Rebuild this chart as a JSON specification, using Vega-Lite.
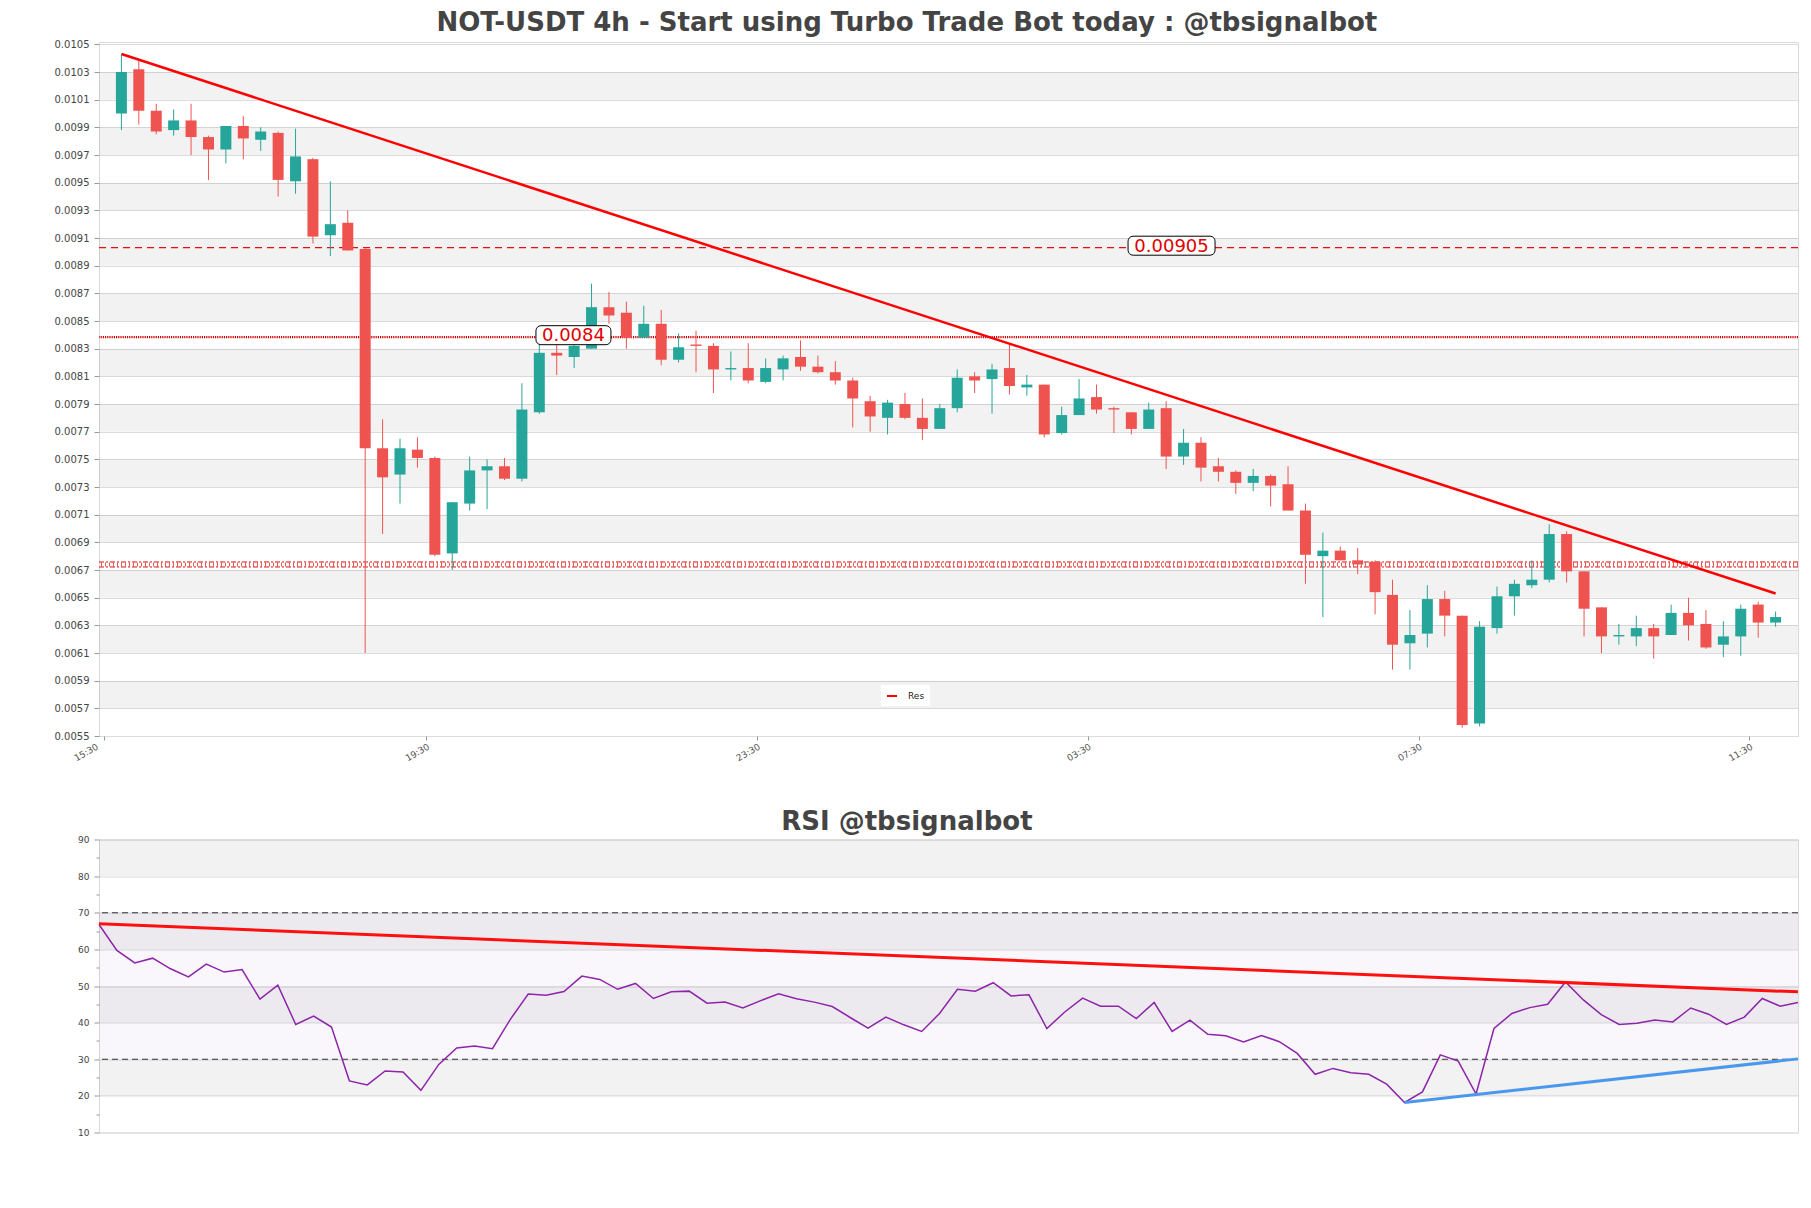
{
  "$schema": "https://vega.github.io/schema/vega-lite/v6.json",
  "background": "white",
  "padding": {"left": 52, "top": 9, "right": 14, "bottom": 5},
  "spacing": 43.5,
  "config": {
    "view": {"stroke": "#d9d9d9", "strokeWidth": 1},
    "font": "DejaVu Sans",
    "axis": {"labelFont": "DejaVu Sans", "labelColor": "#444", "tickColor": "#999", "domain": false, "gridColor": "#dcdcdc", "gridWidth": 1}
  },
  "datasets": {
    "one": [{}],
    "candles": [
      {"i":0,"o":0.01000,"h":0.01043,"l":0.00988,"c":0.01030},
      {"i":1,"o":0.01032,"h":0.01038,"l":0.00992,"c":0.01002},
      {"i":2,"o":0.01002,"h":0.01007,"l":0.00985,"c":0.00987},
      {"i":3,"o":0.00988,"h":0.01003,"l":0.00984,"c":0.00995},
      {"i":4,"o":0.00995,"h":0.01007,"l":0.00970,"c":0.00983},
      {"i":5,"o":0.00983,"h":0.00984,"l":0.00952,"c":0.00974},
      {"i":6,"o":0.00974,"h":0.00991,"l":0.00964,"c":0.00991},
      {"i":7,"o":0.00991,"h":0.00998,"l":0.00967,"c":0.00982},
      {"i":8,"o":0.00981,"h":0.00990,"l":0.00973,"c":0.00987},
      {"i":9,"o":0.00986,"h":0.00987,"l":0.00940,"c":0.00952},
      {"i":10,"o":0.00951,"h":0.00989,"l":0.00942,"c":0.00969},
      {"i":11,"o":0.00967,"h":0.00968,"l":0.00906,"c":0.00911},
      {"i":12,"o":0.00912,"h":0.00951,"l":0.00897,"c":0.00920},
      {"i":13,"o":0.00921,"h":0.00930,"l":0.00901,"c":0.00901},
      {"i":14,"o":0.00902,"h":0.00903,"l":0.00610,"c":0.00758},
      {"i":15,"o":0.00758,"h":0.00779,"l":0.00696,"c":0.00737},
      {"i":16,"o":0.00739,"h":0.00765,"l":0.00718,"c":0.00758},
      {"i":17,"o":0.00757,"h":0.00766,"l":0.00744,"c":0.00751},
      {"i":18,"o":0.00751,"h":0.00752,"l":0.00680,"c":0.00681},
      {"i":19,"o":0.00682,"h":0.00719,"l":0.00670,"c":0.00719},
      {"i":20,"o":0.00718,"h":0.00752,"l":0.00713,"c":0.00742},
      {"i":21,"o":0.00742,"h":0.00750,"l":0.00714,"c":0.00745},
      {"i":22,"o":0.00745,"h":0.00751,"l":0.00735,"c":0.00736},
      {"i":23,"o":0.00736,"h":0.00805,"l":0.00734,"c":0.00786},
      {"i":24,"o":0.00784,"h":0.00833,"l":0.00783,"c":0.00827},
      {"i":25,"o":0.00827,"h":0.00847,"l":0.00811,"c":0.00825},
      {"i":26,"o":0.00824,"h":0.00833,"l":0.00816,"c":0.00832},
      {"i":27,"o":0.00830,"h":0.00877,"l":0.00830,"c":0.00860},
      {"i":28,"o":0.00860,"h":0.00871,"l":0.00848,"c":0.00854},
      {"i":29,"o":0.00856,"h":0.00864,"l":0.00830,"c":0.00838},
      {"i":30,"o":0.00838,"h":0.00861,"l":0.00838,"c":0.00848},
      {"i":31,"o":0.00848,"h":0.00858,"l":0.00818,"c":0.00822},
      {"i":32,"o":0.00822,"h":0.00841,"l":0.00820,"c":0.00831},
      {"i":33,"o":0.00833,"h":0.00843,"l":0.00813,"c":0.00832},
      {"i":34,"o":0.00832,"h":0.00834,"l":0.00798,"c":0.00815},
      {"i":35,"o":0.00815,"h":0.00828,"l":0.00807,"c":0.00816},
      {"i":36,"o":0.00816,"h":0.00834,"l":0.00805,"c":0.00807},
      {"i":37,"o":0.00806,"h":0.00823,"l":0.00805,"c":0.00816},
      {"i":38,"o":0.00815,"h":0.00825,"l":0.00807,"c":0.00823},
      {"i":39,"o":0.00824,"h":0.00836,"l":0.00814,"c":0.00817},
      {"i":40,"o":0.00817,"h":0.00825,"l":0.00812,"c":0.00813},
      {"i":41,"o":0.00813,"h":0.00821,"l":0.00804,"c":0.00807},
      {"i":42,"o":0.00807,"h":0.00809,"l":0.00773,"c":0.00794},
      {"i":43,"o":0.00792,"h":0.00796,"l":0.00770,"c":0.00781},
      {"i":44,"o":0.00780,"h":0.00793,"l":0.00768,"c":0.00791},
      {"i":45,"o":0.00790,"h":0.00798,"l":0.00779,"c":0.00780},
      {"i":46,"o":0.00780,"h":0.00794,"l":0.00764,"c":0.00772},
      {"i":47,"o":0.00772,"h":0.00790,"l":0.00772,"c":0.00787},
      {"i":48,"o":0.00787,"h":0.00815,"l":0.00784,"c":0.00809},
      {"i":49,"o":0.00810,"h":0.00813,"l":0.00798,"c":0.00807},
      {"i":50,"o":0.00808,"h":0.00819,"l":0.00783,"c":0.00815},
      {"i":51,"o":0.00816,"h":0.00834,"l":0.00797,"c":0.00803},
      {"i":52,"o":0.00802,"h":0.00811,"l":0.00796,"c":0.00804},
      {"i":53,"o":0.00804,"h":0.00804,"l":0.00766,"c":0.00768},
      {"i":54,"o":0.00769,"h":0.00788,"l":0.00768,"c":0.00782},
      {"i":55,"o":0.00782,"h":0.00808,"l":0.00782,"c":0.00794},
      {"i":56,"o":0.00795,"h":0.00804,"l":0.00783,"c":0.00786},
      {"i":57,"o":0.00787,"h":0.00788,"l":0.00769,"c":0.00786},
      {"i":58,"o":0.00784,"h":0.00784,"l":0.00768,"c":0.00772},
      {"i":59,"o":0.00772,"h":0.00791,"l":0.00772,"c":0.00786},
      {"i":60,"o":0.00787,"h":0.00792,"l":0.00743,"c":0.00752},
      {"i":61,"o":0.00752,"h":0.00772,"l":0.00746,"c":0.00762},
      {"i":62,"o":0.00762,"h":0.00766,"l":0.00734,"c":0.00744},
      {"i":63,"o":0.00745,"h":0.00751,"l":0.00734,"c":0.00741},
      {"i":64,"o":0.00741,"h":0.00742,"l":0.00725,"c":0.00733},
      {"i":65,"o":0.00733,"h":0.00743,"l":0.00727,"c":0.00738},
      {"i":66,"o":0.00738,"h":0.00739,"l":0.00716,"c":0.00731},
      {"i":67,"o":0.00732,"h":0.00745,"l":0.00713,"c":0.00713},
      {"i":68,"o":0.00713,"h":0.00718,"l":0.00660,"c":0.00681},
      {"i":69,"o":0.00680,"h":0.00697,"l":0.00636,"c":0.00684},
      {"i":70,"o":0.00684,"h":0.00687,"l":0.00677,"c":0.00677},
      {"i":71,"o":0.00677,"h":0.00686,"l":0.00667,"c":0.00674},
      {"i":72,"o":0.00676,"h":0.00677,"l":0.00638,"c":0.00654},
      {"i":73,"o":0.00652,"h":0.00663,"l":0.00598,"c":0.00616},
      {"i":74,"o":0.00617,"h":0.00641,"l":0.00598,"c":0.00623},
      {"i":75,"o":0.00624,"h":0.00659,"l":0.00614,"c":0.00649},
      {"i":76,"o":0.00649,"h":0.00655,"l":0.00622,"c":0.00637},
      {"i":77,"o":0.00637,"h":0.00637,"l":0.00556,"c":0.00558},
      {"i":78,"o":0.00559,"h":0.00633,"l":0.00557,"c":0.00629},
      {"i":79,"o":0.00628,"h":0.00658,"l":0.00624,"c":0.00651},
      {"i":80,"o":0.00651,"h":0.00663,"l":0.00637,"c":0.00660},
      {"i":81,"o":0.00659,"h":0.00677,"l":0.00657,"c":0.00663},
      {"i":82,"o":0.00663,"h":0.00703,"l":0.00661,"c":0.00696},
      {"i":83,"o":0.00696,"h":0.00698,"l":0.00661,"c":0.00669},
      {"i":84,"o":0.00669,"h":0.00669,"l":0.00622,"c":0.00642},
      {"i":85,"o":0.00643,"h":0.00643,"l":0.00610,"c":0.00622},
      {"i":86,"o":0.00622,"h":0.00631,"l":0.00616,"c":0.00623},
      {"i":87,"o":0.00622,"h":0.00637,"l":0.00615,"c":0.00628},
      {"i":88,"o":0.00628,"h":0.00631,"l":0.00606,"c":0.00622},
      {"i":89,"o":0.00623,"h":0.00645,"l":0.00623,"c":0.00639},
      {"i":90,"o":0.00639,"h":0.00650,"l":0.00619,"c":0.00630},
      {"i":91,"o":0.00631,"h":0.00641,"l":0.00613,"c":0.00614},
      {"i":92,"o":0.00616,"h":0.00633,"l":0.00607,"c":0.00622},
      {"i":93,"o":0.00622,"h":0.00645,"l":0.00608,"c":0.00642},
      {"i":94,"o":0.00645,"h":0.00647,"l":0.00621,"c":0.00632},
      {"i":95,"o":0.00632,"h":0.00640,"l":0.00629,"c":0.00636}
    ],
    "trend": [{"i":0,"p":0.01043},{"i":95,"p":0.00653}],
    "bands": [
      {"lo":0.0057,"hi":0.0059},{"lo":0.0061,"hi":0.0063},{"lo":0.0065,"hi":0.0067},
      {"lo":0.0069,"hi":0.0071},{"lo":0.0073,"hi":0.0075},{"lo":0.0077,"hi":0.0079},
      {"lo":0.0081,"hi":0.0083},{"lo":0.0085,"hi":0.0087},{"lo":0.0089,"hi":0.0091},
      {"lo":0.0093,"hi":0.0095},{"lo":0.0097,"hi":0.0099},{"lo":0.0101,"hi":0.0103}
    ],
    "labels": [
      {"i":25.96,"p":0.008383,"t":"0.0084"},
      {"i":60.31,"p":0.00903,"t":"0.00905"}
    ],
    "rsi": [
      {"i":0,"r":66.8},{"i":1,"r":59.7},{"i":2,"r":56.3},{"i":3,"r":57.6},{"i":4,"r":54.7},
      {"i":5,"r":52.5},{"i":6,"r":56.0},{"i":7,"r":53.8},{"i":8,"r":54.5},{"i":9,"r":46.4},
      {"i":10,"r":50.2},{"i":11,"r":39.5},{"i":12,"r":41.8},{"i":13,"r":38.8},{"i":14,"r":24.1},
      {"i":15,"r":23.0},{"i":16,"r":26.8},{"i":17,"r":26.5},{"i":18,"r":21.5},{"i":19,"r":28.6},
      {"i":20,"r":33.1},{"i":21,"r":33.6},{"i":22,"r":32.9},{"i":23,"r":40.9},{"i":24,"r":47.8},
      {"i":25,"r":47.5},{"i":26,"r":48.5},{"i":27,"r":52.7},{"i":28,"r":51.8},{"i":29,"r":49.1},
      {"i":30,"r":50.7},{"i":31,"r":46.6},{"i":32,"r":48.4},{"i":33,"r":48.6},{"i":34,"r":45.3},
      {"i":35,"r":45.6},{"i":36,"r":44.0},{"i":37,"r":46.0},{"i":38,"r":47.9},{"i":39,"r":46.5},
      {"i":40,"r":45.6},{"i":41,"r":44.4},{"i":42,"r":41.4},{"i":43,"r":38.5},{"i":44,"r":41.5},
      {"i":45,"r":39.4},{"i":46,"r":37.6},{"i":47,"r":42.5},{"i":48,"r":49.1},{"i":49,"r":48.6},
      {"i":50,"r":50.9},{"i":51,"r":47.3},{"i":52,"r":47.6},{"i":53,"r":38.4},{"i":54,"r":42.9},
      {"i":55,"r":46.7},{"i":56,"r":44.5},{"i":57,"r":44.5},{"i":58,"r":41.1},{"i":59,"r":45.5},
      {"i":60,"r":37.6},{"i":61,"r":40.7},{"i":62,"r":36.8},{"i":63,"r":36.4},{"i":64,"r":34.7},
      {"i":65,"r":36.5},{"i":66,"r":34.8},{"i":67,"r":31.6},{"i":68,"r":25.9},{"i":69,"r":27.5},
      {"i":70,"r":26.3},{"i":71,"r":25.9},{"i":72,"r":23.2},{"i":73,"r":18.2},{"i":74,"r":21.1},
      {"i":75,"r":31.2},{"i":76,"r":29.5},{"i":77,"r":20.5},{"i":78,"r":38.4},{"i":79,"r":42.5},
      {"i":80,"r":44.1},{"i":81,"r":45.0},{"i":82,"r":51.1},{"i":83,"r":46.2},{"i":84,"r":42.2},
      {"i":85,"r":39.5},{"i":86,"r":39.8},{"i":87,"r":40.7},{"i":88,"r":40.2},{"i":89,"r":44.0},
      {"i":90,"r":42.3},{"i":91,"r":39.5},{"i":92,"r":41.5},{"i":93,"r":46.6},{"i":94,"r":44.5},
      {"i":95,"r":45.5}
    ],
    "rsiBands": [{"lo":20,"hi":30},{"lo":40,"hi":50},{"lo":60,"hi":70},{"lo":80,"hi":90}],
    "rsiRed": [{"i":0,"r":67.0},{"i":95,"r":48.4}],
    "rsiBlue": [{"i":73,"r":18.2},{"i":95,"r":30.1}]
  },
  "vconcat": [
    {
      "width": 1699,
      "height": 694,
      "title": {"text": "NOT-USDT 4h - Start using Turbo Trade Bot today : @tbsignalbot", "font": "DejaVu Sans", "fontSize": 26, "fontWeight": "bold", "color": "#444444", "anchor": "middle", "frame": "group", "dx": -41.6, "offset": 3.5},
      "layer": [
        {
          "data": {"name": "bands"},
          "mark": {"type": "rect", "fill": "#000000", "fillOpacity": 0.05},
          "encoding": {
            "y": {"field": "lo", "type": "quantitative", "title": null,
                  "scale": {"domain": [0.0055, 0.010517], "nice": false, "zero": false},
                  "axis": {"values": [0.0055,0.0057,0.0059,0.0061,0.0063,0.0065,0.0067,0.0069,0.0071,0.0073,0.0075,0.0077,0.0079,0.0081,0.0083,0.0085,0.0087,0.0089,0.0091,0.0093,0.0095,0.0097,0.0099,0.0101,0.0103,0.0105],
                           "tickCount": 200,
                           "format": ".4f", "labelFontSize": 10, "tickSize": 5, "labelPadding": 5, "labelOverlap": false, "labelBound": false, "grid": true, "minExtent": 46, "maxExtent": 46, "title": null}},
            "y2": {"field": "hi"}
          }
        },
        {
          "data": {"name": "one"},
          "mark": {"type": "rule", "color": "#e01010", "strokeWidth": 1.3, "strokeDash": [7, 5]},
          "encoding": {"y": {"datum": 0.00903, "type": "quantitative", "title": null, "scale": {"domain": [0.0055, 0.010517], "nice": false, "zero": false}}}
        },
        {
          "data": {"name": "one"},
          "mark": {"type": "rule", "color": "#d00000", "strokeWidth": 2.2, "strokeDash": [1.2, 1]},
          "encoding": {"y": {"datum": 0.008383, "type": "quantitative", "title": null, "scale": {"domain": [0.0055, 0.010517], "nice": false, "zero": false}}}
        },
        {
          "data": {"name": "one"},
          "mark": {"type": "rule", "color": "#e01010", "strokeWidth": 1, "strokeDash": [5, 2, 2, 2], "yOffset": -2.5},
          "encoding": {"y": {"datum": 0.00674, "type": "quantitative", "title": null, "scale": {"domain": [0.0055, 0.010517], "nice": false, "zero": false}}}
        },
        {
          "data": {"name": "one"},
          "mark": {"type": "rule", "color": "#e01010", "strokeWidth": 1, "strokeDash": [5, 2, 2, 2], "yOffset": 2.5},
          "encoding": {"y": {"datum": 0.00674, "type": "quantitative", "title": null, "scale": {"domain": [0.0055, 0.010517], "nice": false, "zero": false}}}
        },
        {
          "data": {"name": "one"},
          "mark": {"type": "rule", "color": "#e01010", "strokeWidth": 4, "strokeDash": [1, 3], "strokeOpacity": 0.7},
          "encoding": {"y": {"datum": 0.00674, "type": "quantitative", "title": null, "scale": {"domain": [0.0055, 0.010517], "nice": false, "zero": false}}}
        },
        {
          "data": {"name": "candles"},
          "mark": {"type": "rule", "strokeWidth": 1},
          "encoding": {
            "x": {"field": "i", "type": "quantitative", "title": null,
                  "scale": {"domain": [-1, 96], "nice": false, "zero": false},
                  "axis": {"values": [-1, 17.5, 36.5, 55.5, 74.5, 93.5], "tickCount": 50,
                           "labelExpr": "['15:30','19:30','23:30','03:30','07:30','11:30'][indexof([-1,17.5,36.5,55.5,74.5,93.5], datum.value)]",
                           "labelOffset": {"condition": {"test": "datum.value < 0", "value": -9}, "value": 0},
                           "labelAngle": -30, "labelAlign": "right", "labelBaseline": "top", "labelFontSize": 9, "labelColor": "#555555",
                           "labelFlush": false, "labelOverlap": false, "labelBound": false, "grid": false, "tickSize": 4, "labelPadding": 2, "title": null}},
            "y": {"field": "l", "type": "quantitative", "title": null, "scale": {"domain": [0.0055, 0.010517], "nice": false, "zero": false}},
            "y2": {"field": "h"},
            "color": {"condition": {"test": "datum.c >= datum.o", "value": "#26a69a"}, "value": "#ef5350"}
          }
        },
        {
          "data": {"name": "candles"},
          "mark": {"type": "bar", "width": 11},
          "encoding": {
            "x": {"field": "i", "type": "quantitative", "title": null, "scale": {"domain": [-1, 96], "nice": false, "zero": false}},
            "y": {"field": "o", "type": "quantitative", "title": null, "scale": {"domain": [0.0055, 0.010517], "nice": false, "zero": false}},
            "y2": {"field": "c"},
            "color": {"condition": {"test": "datum.c >= datum.o", "value": "#26a69a"}, "value": "#ef5350"}
          }
        },
        {
          "data": {"name": "trend"},
          "mark": {"type": "line", "strokeWidth": 2.5},
          "encoding": {
            "x": {"field": "i", "type": "quantitative", "title": null, "scale": {"domain": [-1, 96], "nice": false, "zero": false}},
            "y": {"field": "p", "type": "quantitative", "title": null, "scale": {"domain": [0.0055, 0.010517], "nice": false, "zero": false}},
            "color": {"datum": "Res", "type": "nominal", "scale": {"range": ["#ff0000"]},
                      "legend": {"orient": "none", "legendX": 782, "legendY": 643, "title": null, "symbolType": "stroke", "symbolStrokeWidth": 2, "symbolSize": 100, "labelFontSize": 9, "labelFont": "DejaVu Sans", "labelColor": "#222222", "labelOffset": 10, "fillColor": "white", "padding": 5}}
          }
        },
        {
          "data": {"name": "one"},
          "mark": {"type": "rect", "width": 75, "height": 19, "fill": "white", "stroke": "#000000", "strokeWidth": 1, "cornerRadius": 5, "yOffset": -2},
          "encoding": {
            "x": {"datum": 25.96, "type": "quantitative", "scale": {"domain": [-1, 96], "nice": false, "zero": false}},
            "y": {"datum": 0.008383, "type": "quantitative", "scale": {"domain": [0.0055, 0.010517], "nice": false, "zero": false}}
          }
        },
        {
          "data": {"name": "one"},
          "mark": {"type": "rect", "width": 87, "height": 19, "fill": "white", "stroke": "#000000", "strokeWidth": 1, "cornerRadius": 5, "yOffset": -2},
          "encoding": {
            "x": {"datum": 60.31, "type": "quantitative", "scale": {"domain": [-1, 96], "nice": false, "zero": false}},
            "y": {"datum": 0.00903, "type": "quantitative", "scale": {"domain": [0.0055, 0.010517], "nice": false, "zero": false}}
          }
        },
        {
          "data": {"name": "labels"},
          "mark": {"type": "text", "font": "DejaVu Sans", "fontSize": 18, "color": "#e00000", "align": "center", "baseline": "middle", "yOffset": -1},
          "encoding": {
            "x": {"field": "i", "type": "quantitative", "title": null, "scale": {"domain": [-1, 96], "nice": false, "zero": false}},
            "y": {"field": "p", "type": "quantitative", "title": null, "scale": {"domain": [0.0055, 0.010517], "nice": false, "zero": false}},
            "text": {"field": "t"}
          }
        }
      ]
    },
    {
      "width": 1699,
      "height": 293,
      "title": {"text": "RSI @tbsignalbot", "font": "DejaVu Sans", "fontSize": 26, "fontWeight": "bold", "color": "#444444", "anchor": "middle", "frame": "group", "dx": -41.6, "offset": 1},
      "layer": [
        {
          "data": {"name": "rsiBands"},
          "mark": {"type": "rect", "fill": "#000000", "fillOpacity": 0.05},
          "encoding": {
            "y": {"field": "lo", "type": "quantitative", "title": null,
                  "scale": {"domain": [10, 90], "nice": false, "zero": false},
                  "axis": {"values": [10,15,20,25,30,35,40,45,50,55,60,65,70,75,80,85,90], "tickCount": 100,
                           "labelExpr": "datum.value % 10 === 0 ? datum.label : ''",
                           "labelFontSize": 9, "labelPadding": 5, "labelOverlap": false, "labelBound": false,
                           "tickSize": {"condition": {"test": "datum.value % 10 !== 0", "value": 3}, "value": 5},
                           "gridOpacity": {"condition": {"test": "datum.value % 10 !== 0", "value": 0}, "value": 1},
                           "grid": true, "minExtent": 46, "maxExtent": 46, "title": null}},
            "y2": {"field": "hi"}
          }
        },
        {
          "data": {"name": "one"},
          "mark": {"type": "rect", "fill": "#9c6fb8", "fillOpacity": 0.06},
          "encoding": {
            "y": {"datum": 30, "type": "quantitative", "scale": {"domain": [10, 90], "nice": false, "zero": false}},
            "y2": {"datum": 70}
          }
        },
        {
          "data": {"name": "one"},
          "mark": {"type": "rule", "color": "#333333", "strokeWidth": 1, "strokeDash": [6, 4]},
          "encoding": {"y": {"datum": 70, "type": "quantitative", "scale": {"domain": [10, 90], "nice": false, "zero": false}}}
        },
        {
          "data": {"name": "one"},
          "mark": {"type": "rule", "color": "#333333", "strokeWidth": 1, "strokeDash": [6, 4]},
          "encoding": {"y": {"datum": 30, "type": "quantitative", "scale": {"domain": [10, 90], "nice": false, "zero": false}}}
        },
        {
          "data": {"name": "rsi"},
          "mark": {"type": "line", "color": "#8e24aa", "strokeWidth": 1.5},
          "encoding": {
            "x": {"field": "i", "type": "quantitative", "title": null, "scale": {"domain": [0, 95], "nice": false, "zero": false}, "axis": null},
            "y": {"field": "r", "type": "quantitative", "title": null, "scale": {"domain": [10, 90], "nice": false, "zero": false}}
          }
        },
        {
          "data": {"name": "rsiRed"},
          "mark": {"type": "line", "color": "#ff1010", "strokeWidth": 3},
          "encoding": {
            "x": {"field": "i", "type": "quantitative", "title": null, "scale": {"domain": [0, 95], "nice": false, "zero": false}},
            "y": {"field": "r", "type": "quantitative", "title": null, "scale": {"domain": [10, 90], "nice": false, "zero": false}}
          }
        },
        {
          "data": {"name": "rsiBlue"},
          "mark": {"type": "line", "color": "#4a98ec", "strokeWidth": 3},
          "encoding": {
            "x": {"field": "i", "type": "quantitative", "title": null, "scale": {"domain": [0, 95], "nice": false, "zero": false}},
            "y": {"field": "r", "type": "quantitative", "title": null, "scale": {"domain": [10, 90], "nice": false, "zero": false}}
          }
        }
      ]
    }
  ]
}
